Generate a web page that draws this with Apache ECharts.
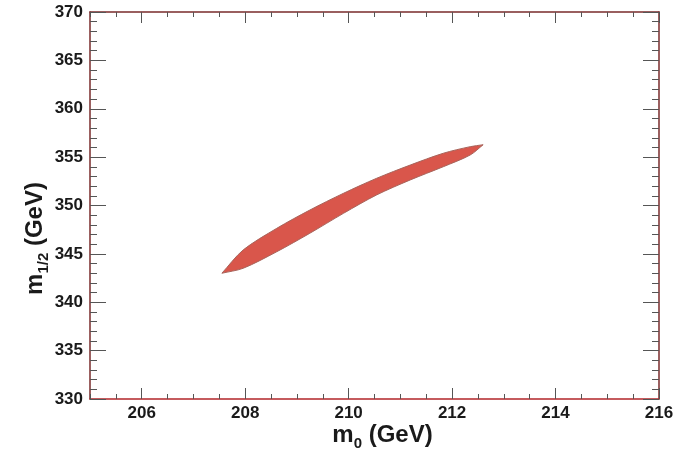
<!DOCTYPE html>
<html>
<head>
<meta charset="utf-8">
<script src="https://cdn.jsdelivr.net/npm/echarts@6/dist/echarts.min.js"></script>
<style>
html,body{margin:0;padding:0;background:#fff;}
#chart{width:677px;height:450px;}
</style>
</head>
<body>
<div id="chart"></div>
<script>
// ---- data ----
var xTickLabels = [206, 208, 210, 212, 214, 216];
var yTickLabels = [330, 335, 340, 345, 350, 355, 360, 365, 370];
// upper boundary of the allowed region, from lower-left tip to upper-right tip  [m0, m1/2]
var upperEdge = [
  [207.55, 343.0], [207.96, 345.4], [208.61, 347.64], [209.25, 349.53],
  [209.90, 351.26], [210.54, 352.81], [211.19, 354.18], [211.83, 355.40],
  [212.35, 356.08], [212.60, 356.28]
];
// lower boundary, from lower-left tip to upper-right tip
var lowerEdge = [
  [207.55, 343.0], [207.96, 343.51], [208.61, 345.22], [209.25, 347.13],
  [209.90, 349.19], [210.54, 351.09], [211.19, 352.64], [211.83, 354.01],
  [212.35, 355.22], [212.60, 356.28]
];

var polygon = upperEdge.concat(lowerEdge.slice().reverse());

var font = "'Liberation Sans', Arial, sans-serif";
var frameColor = '#7a2b2b';
var tickColor = '#555';
var titleRich = {
  a: { fontFamily: font, fontWeight: 'bold', fontSize: 24, lineHeight: 24, verticalAlign: 'top', color: '#1a1a1a' },
  s: { fontFamily: font, fontWeight: 'bold', fontSize: 15, lineHeight: 15, verticalAlign: 'top', padding: [13, 0, 0, 0], color: '#1a1a1a' }
};

function xAxisPair(pos) {
  return [
    { type: 'value', position: pos, min: 205, max: 216, interval: 0.5,
      axisLine: { show: true, lineStyle: { color: pos === 'bottom' ? '#b3262a' : frameColor, width: 1.5 } },
      axisTick: { show: true, inside: true, length: 5, lineStyle: { color: tickColor } },
      axisLabel: { show: false }, splitLine: { show: false } },
    { type: 'value', position: pos, min: 205, max: 216, interval: 1,
      axisLine: { show: false },
      axisTick: { show: true, inside: true, length: 11, customValues: xTickLabels, lineStyle: { color: tickColor } },
      axisLabel: { show: pos === 'bottom', customValues: xTickLabels, margin: 6,
        fontFamily: font, fontWeight: 'bold', fontSize: 17, color: '#1a1a1a' },
      splitLine: { show: false },
      name: pos === 'bottom' ? '{a|m}{s|0}{a| (GeV)}' : '',
      nameLocation: 'middle', nameGap: 24, nameMoveOverlap: false,
      nameTextStyle: { padding: [0, 0, 0, 16], rich: titleRich }
    }
  ];
}

function yAxisOf(pos) {
  return {
    type: 'value', position: pos, min: 330, max: 370, interval: 5,
    axisLine: { show: true, lineStyle: { color: frameColor, width: 1.5 } },
    axisTick: { show: true, inside: true, length: 16, lineStyle: { color: tickColor } },
    minorTick: { show: true, splitNumber: 5, length: 7, lineStyle: { color: tickColor } },
    axisLabel: { show: pos === 'left', margin: 7, customValues: yTickLabels,
      fontFamily: font, fontWeight: 'bold', fontSize: 17, color: '#1a1a1a' },
    splitLine: { show: false },
    name: pos === 'left' ? '{a|m}{s|1/2}{a| (GeV)}' : '',
    nameLocation: 'middle', nameGap: 43, nameMoveOverlap: false,
    nameTextStyle: { padding: [0, 66, 0, 0], rich: titleRich }
  };
}

var chart = echarts.init(document.getElementById('chart'), null, { renderer: 'canvas' });
chart.setOption({
  backgroundColor: '#ffffff',
  animation: false,
  grid: { left: 90, right: 18, top: 12, bottom: 51, containLabel: false, outerBoundsMode: 'none' },
  xAxis: xAxisPair('bottom').concat(xAxisPair('top')),
  yAxis: [yAxisOf('left'), yAxisOf('right')],
  series: [{
    type: 'custom',
    xAxisIndex: 0, yAxisIndex: 0,
    data: polygon,
    encode: { x: 0, y: 1 },
    renderItem: function (params, api) {
      if (params.dataIndex !== 0) return null;
      var pts = polygon.map(function (p) { return api.coord(p); });
      return {
        type: 'polygon',
        shape: { points: pts, smooth: 0.3 },
        style: { fill: '#d9564b', stroke: '#a8655c', lineWidth: 1 }
      };
    }
  }]
});
</script>
</body>
</html>
